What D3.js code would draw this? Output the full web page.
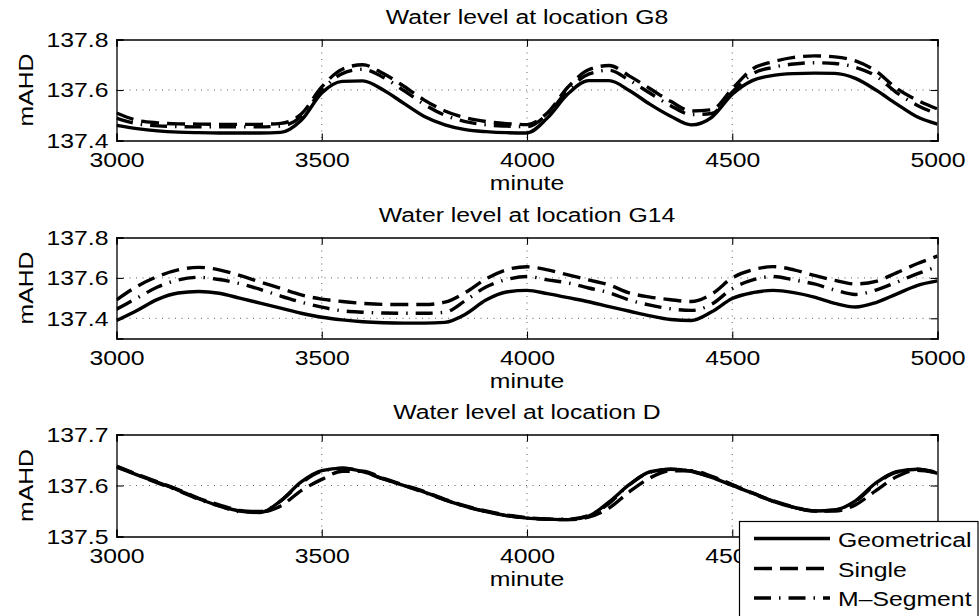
<!DOCTYPE html>
<html>
<head>
<meta charset="utf-8">
<script src="https://cdn.jsdelivr.net/npm/d3@7"></script>
<style>
  body { margin: 0; background: #fff; }
  svg { display: block; font-family: "Liberation Sans", Arial, Helvetica, sans-serif; }
</style>
</head>
<body>
<svg id="chart" width="979" height="616"></svg>
<script>
// sample times (minute)
const minutes = [3000,3050,3100,3150,3200,3250,3300,3350,3400,3450,3500,3550,3600,3650,3700,3750,3800,3850,3900,3950,
                 4000,4050,4100,4150,4200,4250,4300,4350,4400,4450,4500,4550,4600,4650,4700,4750,4800,4850,4900,4950,5000];

const seriesNames = ["Geometrical", "Single", "M\u2013Segment"];

// location G8
const g8Geometrical = [137.460,137.447,137.438,137.433,137.431,137.430,137.430,137.430,137.432,137.480,137.588,137.634,137.636,137.600,137.547,137.495,137.462,137.443,137.435,137.431,
                       137.430,137.490,137.585,137.637,137.637,137.597,137.543,137.496,137.462,137.492,137.583,137.638,137.658,137.665,137.667,137.666,137.646,137.600,137.545,137.494,137.465];
const g8Single = [137.509,137.480,137.470,137.466,137.465,137.464,137.464,137.464,137.468,137.505,137.612,137.682,137.700,137.665,137.615,137.560,137.517,137.490,137.475,137.467,
                  137.463,137.510,137.612,137.680,137.697,137.655,137.605,137.555,137.517,137.522,137.605,137.684,137.712,137.729,137.735,137.731,137.715,137.675,137.607,137.560,137.525];
const g8MSegment = [137.489,137.466,137.458,137.455,137.454,137.454,137.454,137.454,137.457,137.495,137.598,137.665,137.682,137.650,137.598,137.543,137.500,137.475,137.462,137.457,
                    137.455,137.505,137.600,137.663,137.678,137.638,137.587,137.538,137.503,137.507,137.592,137.665,137.690,137.703,137.708,137.705,137.690,137.655,137.590,137.540,137.505];

// location G14
const g14Geometrical = [137.389,137.439,137.494,137.525,137.533,137.524,137.500,137.475,137.450,137.425,137.405,137.392,137.383,137.378,137.376,137.376,137.380,137.420,137.490,137.530,
                        137.538,137.522,137.502,137.482,137.458,137.435,137.412,137.394,137.389,137.432,137.498,137.527,137.538,137.527,137.505,137.474,137.456,137.478,137.520,137.562,137.585];
const g14Single = [137.491,137.558,137.607,137.640,137.652,137.640,137.612,137.580,137.548,137.516,137.495,137.483,137.474,137.469,137.468,137.468,137.480,137.528,137.595,137.640,
                   137.655,137.640,137.615,137.590,137.565,137.525,137.505,137.492,137.483,137.520,137.600,137.640,137.656,137.640,137.612,137.588,137.570,137.583,137.625,137.670,137.708];
const g14MSegment = [137.445,137.500,137.555,137.590,137.603,137.592,137.572,137.543,137.510,137.480,137.455,137.437,137.430,137.426,137.425,137.425,137.430,137.488,137.555,137.592,
                     137.607,137.590,137.575,137.550,137.527,137.490,137.465,137.447,137.439,137.470,137.547,137.590,137.607,137.590,137.570,137.540,137.518,137.540,137.578,137.620,137.655];

// location D
const dGeometrical = [137.636,137.621,137.606,137.591,137.574,137.560,137.550,137.547,137.570,137.607,137.629,137.634,137.627,137.613,137.600,137.587,137.572,137.559,137.549,137.541,
                      137.536,137.534,137.533,137.540,137.568,137.602,137.627,137.632,137.628,137.616,137.600,137.585,137.569,137.557,137.550,137.552,137.570,137.605,137.627,137.632,137.624];
const dSingle = [137.638,137.622,137.607,137.592,137.575,137.562,137.551,137.548,137.560,137.590,137.612,137.628,137.628,137.614,137.601,137.588,137.573,137.560,137.550,137.542,
                 137.537,137.534,137.533,137.538,137.556,137.588,137.615,137.629,137.629,137.618,137.602,137.585,137.570,137.558,137.550,137.550,137.562,137.590,137.617,137.630,137.625];
const dMSegment = [137.637,137.621,137.605,137.590,137.573,137.560,137.549,137.549,137.570,137.605,137.628,137.634,137.627,137.613,137.600,137.586,137.572,137.559,137.549,137.541,
                   137.536,137.534,137.534,137.541,137.565,137.602,137.626,137.632,137.628,137.617,137.601,137.584,137.569,137.557,137.550,137.552,137.569,137.603,137.626,137.632,137.625];

const panels = [
    { title: "Water level at location G8",  top: 39.5,  bottom: 140.5, yDomain: [137.4, 137.8], yTicks: [137.4, 137.6, 137.8], series: [g8Geometrical, g8Single, g8MSegment] },
    { title: "Water level at location G14", top: 237.5, bottom: 338.5, yDomain: [137.3, 137.8], yTicks: [137.4, 137.6, 137.8], series: [g14Geometrical, g14Single, g14MSegment] },
    { title: "Water level at location D",   top: 434.5, bottom: 536.5, yDomain: [137.5, 137.7], yTicks: [137.5, 137.6, 137.7], series: [dGeometrical, dSingle, dMSegment] }
];

const xTicks = [3000, 3500, 4000, 4500, 5000];
const dashes = [null, "18,8", "17,8,1.5,8"];
const left = 116.5, right = 937.5;
const sx = 1.18;         // the original text is a little stretched horizontally
const fontSize = 21;
const lineW = 3.4;
const tickLen = 7;

const svg = d3.select("#chart");
const x = d3.scaleLinear().domain([3000, 5000]).range([left, right]);

panels.forEach((p, i) => {
    const y = d3.scaleLinear().domain(p.yDomain).range([p.bottom, p.top]);
    const g = svg.append("g");

    // dotted grid on interior ticks
    g.selectAll(".vgrid")
        .data(xTicks.filter(t => t > 3000 && t < 5000))
        .enter().append("line")
        .attr("x1", d => x(d)).attr("x2", d => x(d))
        .attr("y1", p.top).attr("y2", p.bottom)
        .attr("stroke", "#333").attr("stroke-width", 0.8)
        .attr("stroke-dasharray", "1,5.5");
    g.selectAll(".hgrid")
        .data(p.yTicks.filter(t => t > p.yDomain[0] && t < p.yDomain[1]))
        .enter().append("line")
        .attr("x1", left).attr("x2", right)
        .attr("y1", d => y(d)).attr("y2", d => y(d))
        .attr("stroke", "#333").attr("stroke-width", 0.8)
        .attr("stroke-dasharray", "1,5.5");

    // lines
    g.append("clipPath").attr("id", "clip" + i)
        .append("rect")
        .attr("x", left).attr("y", p.top)
        .attr("width", right - left).attr("height", p.bottom - p.top);

    const line = d3.line()
        .x((d, k) => x(minutes[k]))
        .y(d => y(d))
        .curve(d3.curveMonotoneX);

    p.series.forEach((s, k) => {
        g.append("path")
            .datum(s)
            .attr("clip-path", `url(#clip${i})`)
            .attr("fill", "none")
            .attr("stroke", "#000")
            .attr("stroke-width", lineW)
            .attr("stroke-dasharray", dashes[k])
            .attr("d", line);
    });

    // axes, ticks pointing inwards, box on all sides
    const bottomAxis = g.append("g")
        .attr("transform", `translate(0,${p.bottom})`)
        .call(d3.axisBottom(x).tickValues(xTicks).tickFormat(d3.format("d")).tickSize(-tickLen).tickPadding(12));
    bottomAxis.selectAll("text").attr("transform", `scale(${sx},1)`);
    // the last panel's 5000 label is hidden under the legend
    if (i === panels.length - 1) {
        bottomAxis.selectAll(".tick text").filter(d => d === 5000).remove();
    }

    g.append("g")
        .attr("transform", `translate(0,${p.top})`)
        .call(d3.axisTop(x).tickValues(xTicks).tickFormat("").tickSize(-tickLen));

    const leftAxis = g.append("g")
        .attr("transform", `translate(${left},0)`)
        .call(d3.axisLeft(y).tickValues(p.yTicks).tickFormat(d3.format(".1f")).tickSize(-tickLen).tickPadding(8));
    leftAxis.selectAll("text")
        .attr("x", -8 / sx)
        .attr("transform", `scale(${sx},1)`);

    g.append("g")
        .attr("transform", `translate(${right},0)`)
        .call(d3.axisRight(y).tickValues(p.yTicks).tickFormat("").tickSize(-tickLen));

    g.selectAll(".domain").attr("stroke", "#000").attr("stroke-width", 1.3);
    g.selectAll(".tick line").attr("stroke", "#000").attr("stroke-width", 1.1);
    g.selectAll(".tick text")
        .attr("fill", "#000")
        .style("font-size", fontSize + "px")
        .style("font-family", "'Liberation Sans', Arial, sans-serif");

    // title, x label, y label
    const cx = (left + right) / 2;
    g.append("text")
        .attr("transform", `translate(${cx},${p.top - 16}) scale(${sx},1)`)
        .attr("text-anchor", "middle")
        .style("font-size", fontSize + "px")
        .text(p.title);

    g.append("text")
        .attr("transform", `translate(${cx},${p.bottom + 49}) scale(${sx},1)`)
        .attr("text-anchor", "middle")
        .style("font-size", fontSize + "px")
        .text("minute");

    g.append("text")
        .attr("transform", `translate(33,${(p.top + p.bottom) / 2}) rotate(-90) scale(${sx},1)`)
        .attr("text-anchor", "middle")
        .style("font-size", fontSize + "px")
        .text("mAHD");
});

// legend, sits over the lower right corner and runs off the page
const legend = svg.append("g");
legend.append("rect")
    .attr("x", 739.5).attr("y", 521.5)
    .attr("width", 238.5).attr("height", 120)
    .attr("fill", "#fff")
    .attr("stroke", "#000")
    .attr("stroke-width", 1.2);

const legendY = [546.5, 576.5, 606];
seriesNames.forEach((name, k) => {
    legend.append("line")
        .attr("x1", 754).attr("x2", 830)
        .attr("y1", legendY[k] - 8).attr("y2", legendY[k] - 8)
        .attr("stroke", "#000")
        .attr("stroke-width", lineW)
        .attr("stroke-dasharray", dashes[k]);
    legend.append("text")
        .attr("transform", `translate(838,${legendY[k]}) scale(${sx},1)`)
        .style("font-size", fontSize + "px")
        .text(name);
});
</script>
</body>
</html>
